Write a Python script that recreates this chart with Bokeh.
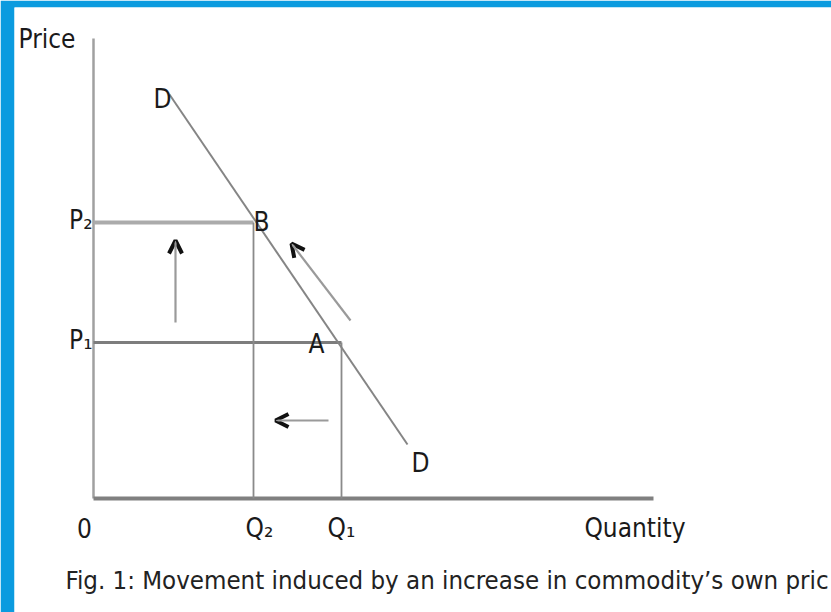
from bokeh.plotting import figure
from bokeh.models import Range1d, Arrow, OpenHead
from bokeh.core.properties import value
from bokeh.embed import file_html
from bokeh.resources import INLINE

# ---- data (economic units) ----
axis_q_max = 14.0
axis_p_max = 11.5
demand_q = [1.9, 7.85]
demand_p = [10.1, 1.35]
q_tick_values = [0.0, 4.0, 6.2]
q_tick_labels = ["0", "Q₂", "Q₁"]
p_values = [6.9, 3.9]          # P2, P1
p_labels = ["P₂", "P₁"]
q_at_p = [4.0, 6.2]            # Q2, Q1
point_labels = ["B", "A"]
arrow_q0 = [2.05, 6.425, 5.875]
arrow_p0 = [4.4, 4.45, 1.95]
arrow_q1 = [2.05, 4.95, 4.55]
arrow_p1 = [6.45, 6.375, 1.95]
x_title = "Quantity"
y_title = "Price"
caption = "Fig. 1: Movement induced by an increase in commodity\u2019s own pric"

FONT = value("DejaVu Sans Condensed")
BLUE = "#0b9bdf"

W, H = 831, 612
LEFT, TOP = 14, 7
FW, FH = W - LEFT, H - TOP
S = 40.0
x0 = -(93 - LEFT) / S
y1 = (498 - TOP) / S
p = figure(width=W, height=H, output_backend="svg", toolbar_location=None,
           x_axis_type=None, y_axis_type=None,
           min_border_left=LEFT, min_border_top=TOP, min_border_right=0, min_border_bottom=0,
           x_range=Range1d(x0, x0 + FW / S),
           y_range=Range1d(y1 - FH / S, y1))
p.background_fill_color = "#ffffff"
p.border_fill_color = BLUE
p.outline_line_color = None
p.grid.visible = False

# axes
p.segment(x0=[0], y0=[0], x1=[0], y1=[axis_p_max], line_color="#a0a0a0", line_width=2.5)
p.segment(x0=[0], y0=[0], x1=[axis_q_max], y1=[0], line_color="#808080", line_width=4)

# price levels and quantity drops
p.segment(x0=[0], y0=[p_values[0]], x1=[q_at_p[0]], y1=[p_values[0]], line_color="#ababab", line_width=4)
p.segment(x0=[0], y0=[p_values[1]], x1=[q_at_p[1]], y1=[p_values[1]], line_color="#7d7d7d", line_width=3)
p.segment(x0=q_at_p, y0=[0, 0], x1=q_at_p, y1=p_values, line_color="#8a8a8a", line_width=1.8)

# demand curve
p.line(demand_q, demand_p, line_color="#858585", line_width=2)

# arrows
for xa, ya, xb, yb in zip(arrow_q0, arrow_p0, arrow_q1, arrow_p1):
    p.add_layout(Arrow(x_start=xa, y_start=ya, x_end=xb, y_end=yb,
                       line_color="#9a9a9a", line_width=2.2,
                       end=OpenHead(size=13, line_color="#111111", line_width=4)))

TXT = "#1a1a1a"
LS = "26px"
# axis titles
p.text(x=[0], y=[axis_p_max], text=[y_title], text_font=FONT, text_font_size=LS,
       text_color=TXT, text_align="right", text_baseline="middle", x_offset=-18)
p.text(x=[axis_q_max], y=[0], text=[x_title], text_font=FONT, text_font_size=LS,
       text_color=TXT, text_align="right", text_baseline="alphabetic", x_offset=32, y_offset=29)
# quantity ticks
p.text(x=q_tick_values, y=[0, 0, 0], text=q_tick_labels, text_font=FONT, text_font_size=LS,
       text_color=TXT, text_align="center", text_baseline="alphabetic", y_offset=29,
       x_offset=[-9, 6, 0])
# price ticks
p.text(x=[0, 0], y=p_values, text=p_labels, text_font=FONT, text_font_size=LS,
       text_color=TXT, text_align="right", text_baseline="middle", x_offset=-1, y_offset=-3)
# point labels
p.text(x=q_at_p, y=p_values, text=point_labels, text_font=FONT, text_font_size=LS,
       text_color=TXT, text_align=["left", "center"], text_baseline="middle",
       x_offset=[0, -25], y_offset=[-1, 1])
# demand labels
p.text(x=[demand_q[0], demand_q[1]], y=[demand_p[0], demand_p[1]], text=["D", "D"], text_font=FONT,
       text_font_size=LS, text_color=TXT, text_align="center", text_baseline="middle",
       x_offset=[-7, 13], y_offset=[4, 18])
# caption
p.text(x=[0], y=[0], text=[caption], text_font=FONT, text_font_size="25.6px",
       text_color="#222222", text_align="left", text_baseline="alphabetic",
       x_offset=-28, y_offset=81)

open("out.html", "w").write(file_html(p, INLINE))
